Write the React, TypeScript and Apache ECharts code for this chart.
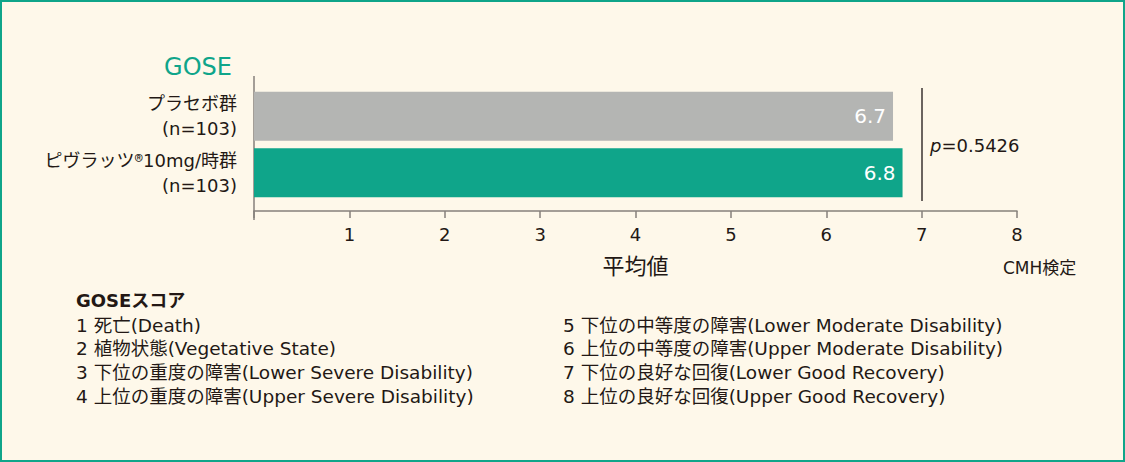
import * as echarts from "echarts";
import { useEffect, useRef } from "react";

const categories = ["プラセボ群\n(n=103)", "ピヴラッツ®10mg/時群\n(n=103)"];
const meanValues = [6.7, 6.8];
const barColors = ["#b4b5b3", "#0fa58a"];
const xTicks = [0, 1, 2, 3, 4, 5, 6, 7, 8];
const pValue = "0.5426";
const scoreLeft = [
  "1 死亡(Death)",
  "2 植物状態(Vegetative State)",
  "3 下位の重度の障害(Lower Severe Disability)",
  "4 上位の重度の障害(Upper Severe Disability)",
];
const scoreRight = [
  "5 下位の中等度の障害(Lower Moderate Disability)",
  "6 上位の中等度の障害(Upper Moderate Disability)",
  "7 下位の良好な回復(Lower Good Recovery)",
  "8 上位の良好な回復(Upper Good Recovery)",
];

const FONT = '"DejaVu Sans", "Noto Sans CJK JP", sans-serif';
const CJK = '"Noto Sans CJK JP", sans-serif';
const INK = "#231815";
const TEAL = "#0fa58a";
const AXIS = "#86817b";

export default function App() {
  const chartRef = useRef<HTMLDivElement | null>(null);

  useEffect(() => {
    document.body.style.margin = "0";
    const el = chartRef.current;
    if (!el) return;

    const chart = echarts.init(el, undefined, { renderer: "svg" });

    const scoreLines = (lines: string[], x: number) =>
      lines.map((t, i) => ({
        type: "text" as const,
        x,
        y: 325 + i * 23.7,
        style: {
          text: t,
          fontSize: 18.5,
          fontFamily: FONT,
          fill: INK,
          verticalAlign: "middle" as const,
        },
      }));

    const option: echarts.EChartsOption = {
      animation: false,
      backgroundColor: "#fef8ea",
      textStyle: { fontFamily: FONT },
      grid: { left: 254, right: 108, top: 88, height: 113 },
      xAxis: {
        type: "value",
        min: xTicks[0],
        max: xTicks[xTicks.length - 1],
        interval: 1,
        offset: 10,
        axisLine: { show: true, lineStyle: { color: AXIS, width: 1.5 } },
        axisTick: { show: true, length: 7, lineStyle: { color: AXIS, width: 1.5 } },
        splitLine: { show: false },
        axisLabel: {
          fontSize: 18,
          color: INK,
          fontFamily: FONT,
          margin: 14,
          formatter: (v: number) => (v === 0 ? "" : String(v)),
        },
        name: "平均値",
        nameLocation: "middle",
        nameGap: 44,
        nameTextStyle: { fontSize: 22, color: INK, fontFamily: FONT },
      },
      yAxis: {
        type: "category",
        inverse: true,
        data: categories,
        axisLine: { show: false },
        axisTick: { show: false },
        axisLabel: {
          fontSize: 18,
          color: INK,
          fontFamily: FONT,
          lineHeight: 25,
          margin: 17,
          align: "right",
          formatter: (v: string) => v.replace("®", "{r|®}"),
          rich: {
            r: { fontFamily: CJK, fontSize: 18, color: INK, lineHeight: 25 },
          },
        },
      },
      series: [
        {
          type: "bar",
          barWidth: 49,
          data: meanValues.map((v, i) => ({
            value: v,
            itemStyle: { color: barColors[i] },
          })),
          label: {
            show: true,
            position: "insideRight",
            distance: 7,
            color: "#ffffff",
            fontSize: 20,
            fontFamily: FONT,
            formatter: (p: any) => p.value.toFixed(1),
          },
          markLine: {
            silent: true,
            symbol: "none",
            label: { show: false },
            lineStyle: { color: "#3a3330", width: 1.5, type: "solid" },
            data: [{ xAxis: 7 }],
          },
        },
      ],
      graphic: [
        {
          type: "rect",
          shape: { x: 1, y: 1, width: 1123, height: 460 },
          style: { fill: "none", stroke: TEAL, lineWidth: 2 },
          silent: true,
        },
        {
          type: "line",
          shape: { x1: 254, y1: 76, x2: 254, y2: 220 },
          style: { stroke: AXIS, lineWidth: 1.5 },
        },
        {
          type: "text",
          x: 232,
          y: 67,
          style: {
            text: "GOSE",
            fontSize: 24,
            fontFamily: FONT,
            fill: TEAL,
            align: "right",
            verticalAlign: "middle",
          },
        },
        {
          type: "text",
          x: 930,
          y: 145,
          style: {
            text: `{i|p}=${pValue}`,
            fontSize: 18,
            fontFamily: FONT,
            fill: INK,
            verticalAlign: "middle",
            rich: {
              i: { fontStyle: "italic", fontSize: 18, fontFamily: FONT, fill: INK } as any,
            },
          } as any,
        },
        {
          type: "text",
          x: 1003,
          y: 268,
          style: {
            text: "CMH検定",
            fontSize: 17,
            fontFamily: FONT,
            fill: INK,
            verticalAlign: "middle",
          },
        },
        {
          type: "text",
          x: 76,
          y: 300,
          style: {
            text: "GOSEスコア",
            fontSize: 18,
            fontWeight: "bold",
            fontFamily: FONT,
            fill: INK,
            verticalAlign: "middle",
          },
        },
        ...scoreLines(scoreLeft, 76),
        ...scoreLines(scoreRight, 563),
      ],
    };

    chart.setOption(option);

    return () => {
      if (!chart.isDisposed()) chart.dispose();
    };
  }, []);

  return <div ref={chartRef} style={{ width: 1125, height: 462 }} />;
}
